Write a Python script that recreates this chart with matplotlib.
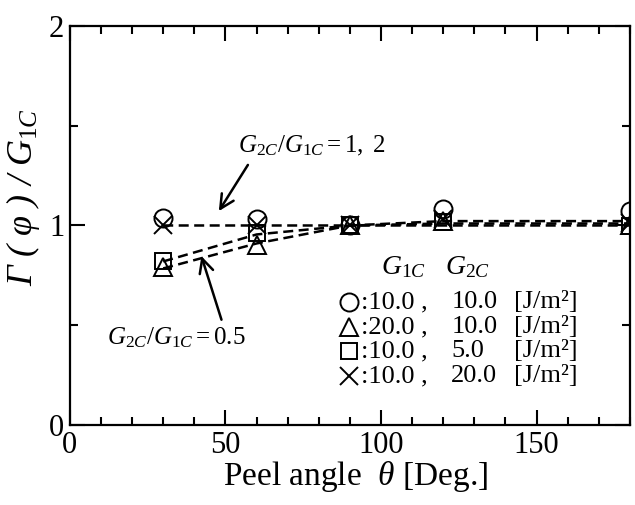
import matplotlib
matplotlib.use("Agg")
import matplotlib.pyplot as plt
from matplotlib.ticker import MultipleLocator

plt.rcParams['font.family'] = ['Liberation Serif', 'DejaVu Serif']
plt.rcParams['mathtext.fontset'] = 'custom'
plt.rcParams['mathtext.rm'] = 'Liberation Serif'
plt.rcParams['mathtext.it'] = 'Liberation Serif:italic'
plt.rcParams['mathtext.bf'] = 'Liberation Serif:bold'
plt.rcParams['mathtext.fallback'] = 'stix'

theta = [30, 60, 90, 120, 180]
circle_10_10 = [1.035, 1.03, 1.0, 1.085, 1.075]
triangle_20_10 = [0.79, 0.90, 1.0, 1.02, 1.0]
square_10_5 = [0.82, 0.96, 1.0, 1.015, 0.995]
cross_10_20 = [1.0, 1.0, 1.0, 1.03, 1.01]

curve_ratio_1_2 = [1.0, 1.0, 1.0, 1.022, 1.022]
curve_ratio_05a = [0.82, 0.955, 1.0, 1.01, 1.01]
curve_ratio_05b = [0.785, 0.91, 1.0, 1.0, 1.0]

legend_g1 = [':10.0 ,', ':20.0 ,', ':10.0 ,', ':10.0 ,']
legend_g2 = ['10.0', '10.0', '5.0', '20.0']

fig = plt.figure(figsize=(6.35, 5.05), dpi=100)
ax = fig.add_axes([0.110, 0.158, 0.882, 0.791])

for c in (curve_ratio_1_2, curve_ratio_05a, curve_ratio_05b):
    ax.plot(theta, c, ls=(0, (4, 2.2)), color='black', lw=1.8, zorder=2)

mk = dict(ls='none', color='black', mfc='none', mew=1.4, zorder=3)
ax.plot(theta, circle_10_10, marker='o', ms=13, **mk)
ax.plot(theta, triangle_20_10, marker='^', ms=13, **mk)
ax.plot(theta, square_10_5, marker='s', ms=12, **mk)
ax.plot(theta, cross_10_20, marker='x', ms=13, **mk)

ax.set_xlim(0, 180)
ax.set_ylim(0, 2)
ax.xaxis.set_major_locator(MultipleLocator(50))
ax.xaxis.set_minor_locator(MultipleLocator(10))
ax.yaxis.set_major_locator(MultipleLocator(1))
ax.yaxis.set_minor_locator(MultipleLocator(0.5))
ax.tick_params(which='both', direction='in', top=True, right=True, width=1.5,
               labelsize=22, pad=4)
ax.tick_params(which='major', length=11)
ax.tick_params(which='minor', length=6)
for s in ax.spines.values():
    s.set_linewidth(1.6)

ax.set_xlabel(r'Peel angle  $\mathit{θ}$ [Deg.]', fontsize=24, labelpad=2)
ax.xaxis.set_label_coords(0.51, -0.085)
ax.set_ylabel('Γ ( φ ) / ' + r'$\mathit{G_{1C}}$', fontsize=26, style='italic')
ax.yaxis.set_label_coords(-0.05, 0.57)

# annotations
ax.annotate('', xy=(47.4, 1.06), xytext=(57.7, 1.315),
            arrowprops=dict(arrowstyle='->', color='black', lw=1.8, mutation_scale=25))
ax.text(54, 1.40, r'$\mathit{G_{2C}/G_{1C}{=}1,\ 2}$', fontsize=18,
        ha='left', va='center')
ax.annotate('', xy=(42.0, 0.86), xytext=(49.0, 0.515),
            arrowprops=dict(arrowstyle='->', color='black', lw=1.8, mutation_scale=25))
ax.text(11.8, 0.44, r'$\mathit{G_{2C}/G_{1C}{=}0.5}$', fontsize=18,
        ha='left', va='center')

# legend block
ax.text(100, 0.79, r'$\mathit{G_{1C}}$', fontsize=20, ha='left', va='center')
ax.text(120.5, 0.79, r'$\mathit{G_{2C}}$', fontsize=20, ha='left', va='center')
markers = ['o', '^', 's', 'x']
rows_y = [0.615, 0.49, 0.37, 0.245]
for m, l1, l2, yy in zip(markers, legend_g1, legend_g2, rows_y):
    ax.plot([89.7], [yy], marker=m, ms=13 if m != 's' else 12, **mk)
    ax.text(93.5, yy, l1, fontsize=19, ha='left', va='center')
    ax.text(122.6, yy, l2, fontsize=19, ha='left', va='center')
    ax.text(142.9, yy, '[J/m²]', fontsize=19, ha='left', va='center')

fig.savefig('out.png', dpi=100)
